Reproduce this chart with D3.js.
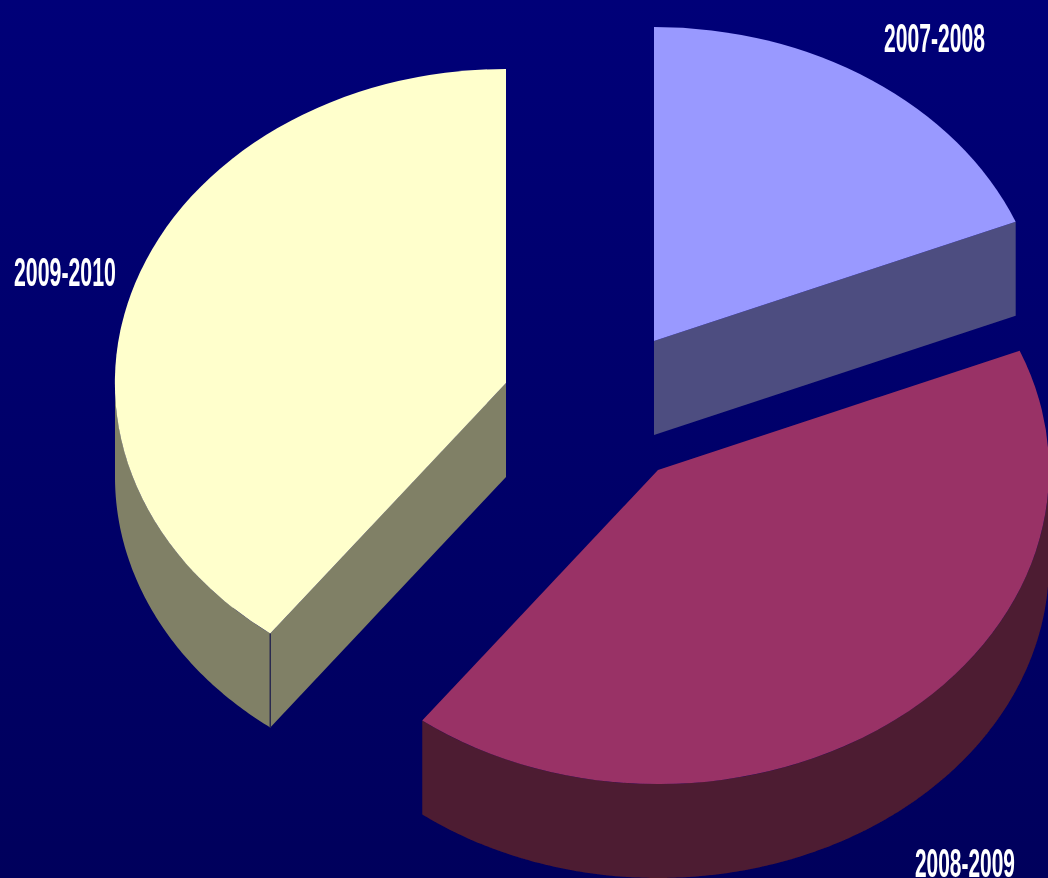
<!DOCTYPE html>
<html>
<head>
<meta charset="utf-8">
<script src="https://d3js.org/d3.v7.min.js"></script>
<style>
  html, body { margin: 0; padding: 0; background: #000068; overflow: hidden; }
  svg { display: block; }
  text { font-family: "Liberation Sans Narrow", "Liberation Sans", Arial, sans-serif; font-weight: bold; fill: #fff; }
</style>
</head>
<body>
<div id="chart"></div>
<script>
// values (share of the pie, %)
var categories = ["2007-2008", "2008-2009", "2009-2010"];
var values = [18.8, 41.5, 39.7];

// colours and layout are kept apart from the data
var topColors = ["#9999ff", "#993366", "#ffffcc"];
var sideColors = ["#4d4d80", "#4d1a33", "#808066"];
var centers = [[654, 341], [658, 470], [506, 383]];
var labelBoxes = [[884, 52, 101], [915, 877, 100], [14, 286, 102]];

var width = 1048, height = 878;
var rx = 391, ry = 314, depth = 94;

var svg = d3.select("#chart").append("svg")
  .attr("width", width)
  .attr("height", height);

var defs = svg.append("defs");
var grad = defs.append("linearGradient")
  .attr("id", "bg")
  .attr("x1", 0).attr("y1", 0).attr("x2", 0).attr("y2", 1);
grad.append("stop").attr("offset", "0%").attr("stop-color", "#000078");
grad.append("stop").attr("offset", "100%").attr("stop-color", "#00005c");

// the reference is a soft, upscaled image
defs.append("filter").attr("id", "soft")
  .append("feGaussianBlur").attr("stdDeviation", 0.7);

svg.append("rect")
  .attr("width", width)
  .attr("height", height)
  .attr("fill", "url(#bg)");

var pie = d3.pie().sort(null).value(function(d) { return d; });
var slices = pie(values);

// a circle of radius 1 squashed to the ellipse of the tilted pie
var arc = d3.arc().innerRadius(0).outerRadius(1);
var px = function(a) { return rx * Math.sin(a); };
var py = function(a) { return -ry * Math.cos(a); };

var g = svg.append("g").attr("filter", "url(#soft)");

slices.forEach(function(s, i) {
  var slice = g.append("g")
    .attr("transform", "translate(" + centers[i][0] + "," + centers[i][1] + ")");
  var side = sideColors[i];

  // outer wall, only the part that faces the viewer
  var a0 = Math.max(s.startAngle, Math.PI / 2);
  var a1 = Math.min(s.endAngle, Math.PI * 3 / 2);
  if (a0 < a1) {
    var angles = d3.range(a0, a1, 0.01).concat([a1]);
    var upper = angles.map(function(a) { return [px(a), py(a)]; });
    var lower = angles.slice().reverse().map(function(a) { return [px(a), py(a) + depth]; });
    slice.append("path")
      .attr("d", d3.line()(upper.concat(lower)) + "Z")
      .attr("fill", side);
  }

  // cut faces of the slice
  var wall = function(a) {
    slice.append("path")
      .attr("d", d3.line()([[0, 0], [px(a), py(a)], [px(a), py(a) + depth], [0, depth]]) + "Z")
      .attr("fill", side);
  };
  if (Math.sin(s.startAngle) < -1e-6) wall(s.startAngle);
  if (Math.sin(s.endAngle) > 1e-6) wall(s.endAngle);

  // top of the slice
  slice.append("path")
    .attr("d", arc(s))
    .attr("transform", "scale(" + rx + "," + ry + ")")
    .attr("fill", topColors[i]);

  // dark seam where the outer wall meets the cut face
  if (s.startAngle > Math.PI && s.startAngle < Math.PI * 3 / 2) {
    slice.append("line")
      .attr("x1", px(s.startAngle)).attr("y1", py(s.startAngle))
      .attr("x2", px(s.startAngle)).attr("y2", py(s.startAngle) + depth)
      .attr("stroke", "#2a2a50")
      .attr("stroke-width", 1.5);
  }
});

// labels are squeezed sideways to the width they have in the reference
svg.selectAll("text")
  .data(categories)
  .enter()
  .append("text")
  .text(function(d) { return d; })
  .attr("font-size", "41px")
  .attr("filter", "url(#soft)")
  .attr("transform", function(d, i) {
    var box = labelBoxes[i];
    return "translate(" + box[0] + "," + box[1] + ") scale(" + (box[2] / this.getComputedTextLength()) + ",1)";
  });
</script>
</body>
</html>
